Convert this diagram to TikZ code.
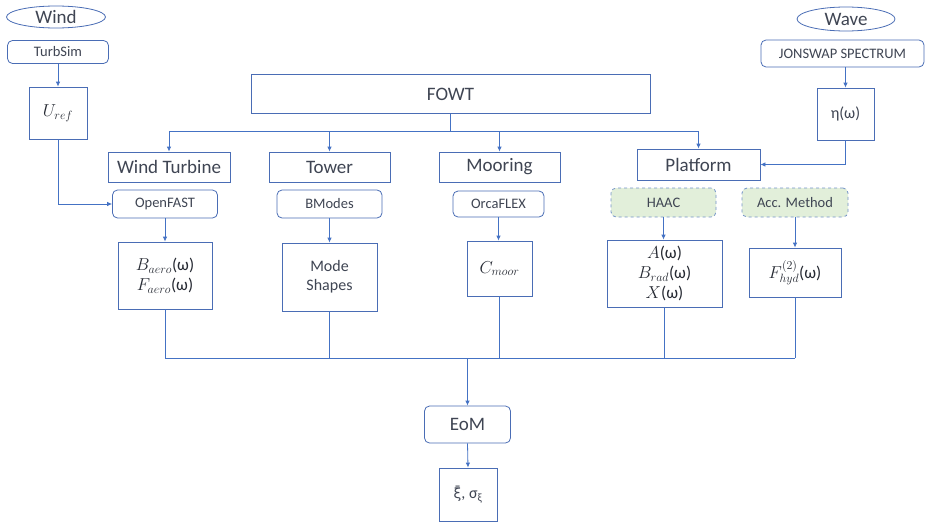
\documentclass[tikz,border=0pt]{standalone}
\usepackage{fontspec}
\setmainfont{Carlito}
\newfontfamily\djv{DejaVu Sans}
\usetikzlibrary{arrows.meta,shapes.geometric}
\definecolor{lineblue}{HTML}{4472C4}
\definecolor{boxblue}{HTML}{4A6DB5}
\definecolor{dashblue}{HTML}{7393C8}
\definecolor{txt}{HTML}{3F4553}
\definecolor{mathtxt}{HTML}{262A33}
\definecolor{greenfill}{HTML}{E2EFDA}
\begin{document}
\begin{tikzpicture}[x=1pt,y=-1pt,
  box/.style={draw=boxblue, line width=0.8pt, fill=white, inner sep=0pt, text=txt, align=center},
  rbox/.style={box, rounded corners=5pt},
  gbox/.style={rbox, dashed, fill=greenfill, draw=dashblue},
  ell/.style={box, ellipse},
  arr/.style={draw=lineblue, line width=0.8pt, -{Latex[length=5pt,width=4.5pt]}},
  ln/.style={draw=lineblue, line width=0.8pt},
  big/.style={font=\fontsize{19}{21}\selectfont},
  mid/.style={font=\fontsize{16}{19}\selectfont},
  mth/.style={font=\fontsize{17}{20}\selectfont, text=mathtxt},
  small/.style={font=\fontsize{14.5}{17}\selectfont},
]
\useasboundingbox (0,0) rectangle (925,522);

% sources
\node[ell, big, minimum width=99, minimum height=22] (wind) at (56,17) {Wind};
\node[ell, big, minimum width=98, minimum height=24] (wave) at (846,19) {Wave};
\node[rbox, small, minimum width=101, minimum height=23] (turbsim) at (58,52) {TurbSim};
\node[rbox, small, minimum width=163, minimum height=27] (jonswap) at (842.5,53.5) {JONSWAP SPECTRUM};
\node[box, mth, minimum width=58, minimum height=52] (uref) at (58,113) {$U_{ref}$};
\node[box, mid, minimum width=57, minimum height=52] (eta) at (845.5,114) {η(ω)};

% FOWT and components
\node[box, big, minimum width=399, minimum height=39] (fowt) at (450.5,94) {FOWT};
\node[box, big, minimum width=122, minimum height=30] (wt) at (169,167) {Wind Turbine};
\node[box, big, minimum width=121, minimum height=30] (tower) at (329.5,167) {Tower};
\node[box, big, minimum width=121, minimum height=30] (mooring) at (499.5,167) {Mooring};
\node[box, big, minimum width=123, minimum height=31] (platform) at (698.5,164.5) {Platform};

% tools
\node[rbox, small, minimum width=105, minimum height=28] (openfast) at (165,204) {OpenFAST};
\node[rbox, small, minimum width=105, minimum height=28] (bmodes) at (329.5,204) {BModes};
\node[rbox, small, minimum width=91, minimum height=26] (orcaflex) at (498.5,204) {OrcaFLEX};
\node[gbox, small, minimum width=105, minimum height=29] (haac) at (663.5,202.5) {HAAC};
\node[gbox, small, minimum width=106, minimum height=29] (acc) at (795,202.5) {Acc. Method};

% outputs
\node[box, mth, minimum width=94, minimum height=67] (aero) at (165,275.5) {$B_{aero}$(ω)\\$F_{aero}$(ω)};
\node[box, mid, minimum width=95, minimum height=68] (mode) at (329.5,277) {Mode\\Shapes};
\node[box, mth, minimum width=65, minimum height=55] (cmoor) at (499.5,268.5) {$C_{moor}$};
\node[box, mth, minimum width=115, minimum height=67] (abx) at (664.5,273.5) {$A$(ω)\\$B_{rad}$(ω)\\$X$(ω)};
\node[box, mth, minimum width=92, minimum height=49] (fhyd) at (795,272.5) {$F_{hyd}^{(2)}$(ω)};

% bottom
\node[rbox, big, minimum width=86, minimum height=37] (eom) at (467.5,424.5) {EoM};
\node[box, mid, minimum width=58, minimum height=53] (res) at (468,494.5) {{\djv\fontsize{14}{17}\selectfont ξ̄}, σ\textsubscript{ξ}};

% connectors: wind / wave
\draw[arr] (turbsim.south) -- (uref.north);
\draw[arr] (uref.south) |- (openfast.west);
\draw[arr] (eta.north |- jonswap.south) -- (eta.north);
\draw[arr] (eta.south) |- (platform.east);

% FOWT branches
\coordinate (br) at (450.5,131.5);
\draw[ln] (fowt.south) -- (br);
\draw[ln] (wt.north |- br) -- (platform.north |- br);
\draw[arr] (wt.north |- br) -- (wt.north);
\draw[arr] (tower.north |- br) -- (tower.north);
\draw[arr] (mooring.north |- br) -- (mooring.north);
\draw[arr] (platform.north |- br) -- (platform.north);

% tools to outputs
\draw[arr] (openfast.south) -- (aero.north);
\draw[arr] (bmodes.south) -- (mode.north);
\draw[arr] (orcaflex.south) -- (orcaflex.south |- cmoor.north);
\draw[arr] (haac.south) -- (haac.south |- abx.north);
\draw[arr] (acc.south) -- (fhyd.north);

% collection
\coordinate (bot) at (467.5,358);
\draw[ln] (aero.south) -- (aero.south |- bot);
\draw[ln] (mode.south) -- (mode.south |- bot);
\draw[ln] (cmoor.south) -- (cmoor.south |- bot);
\draw[ln] (abx.south) -- (abx.south |- bot);
\draw[ln] (fhyd.south) -- (fhyd.south |- bot);
\draw[ln] (aero.south |- bot) -- (fhyd.south |- bot);
\draw[arr] (bot) -- (eom.north);
\draw[arr] (eom.south) -- (res.north);
\end{tikzpicture}
\end{document}
